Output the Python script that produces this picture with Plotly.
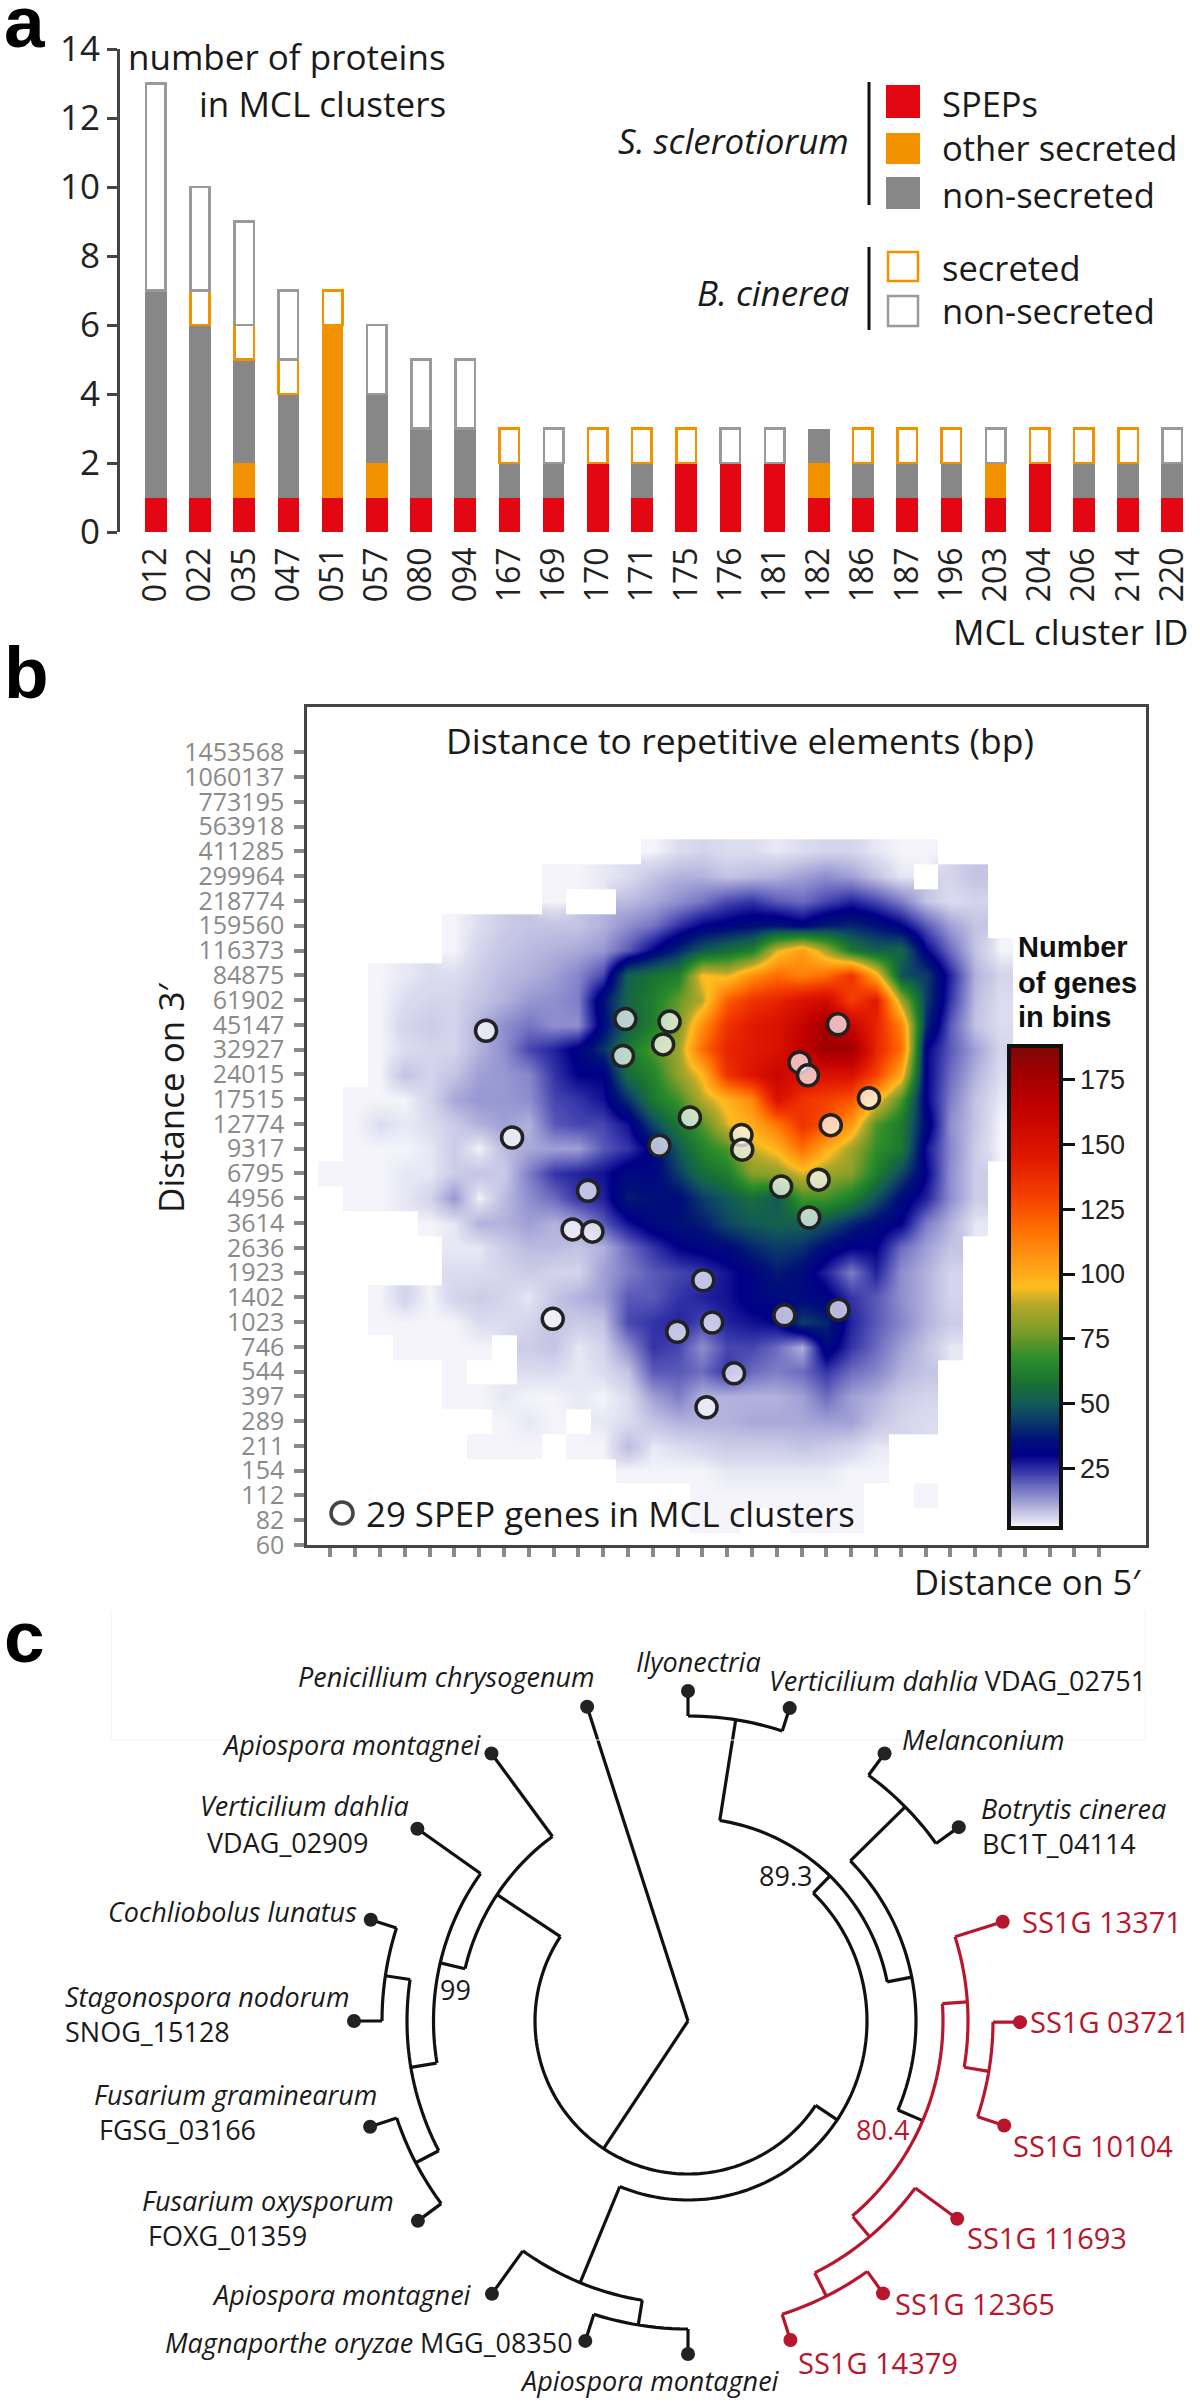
import plotly.graph_objects as go

W, H = 1200, 2403
def px(x): return x / W
def py(y): return 1 - y / H

# ---------- panel a ----------
clusters = ["012","022","035","047","051","057","080","094","167","169","170","171","175","176","181","182","186","187","196","203","204","206","214","220"]
speps          = [1,1,1,1,1,1,1,1,1,1,2,1,2,2,2,1,1,1,1,1,2,1,1,1]
other_secreted = [0,0,1,0,5,1,0,0,0,0,0,0,0,0,0,1,0,0,0,1,0,0,0,0]
non_secreted   = [6,5,3,3,0,2,2,2,1,1,0,1,0,0,0,1,1,1,1,0,0,1,1,1]
bc_secreted    = [0,1,1,1,1,0,0,0,1,0,1,1,1,0,0,0,1,1,1,0,1,1,1,0]
bc_non_secreted= [6,3,3,2,0,2,2,2,0,1,0,0,0,1,1,0,0,0,0,1,0,0,0,1]
RED, ORANGE, GREY, HOLLOW = "#e30613", "#f39200", "#878787", "#9a9a9a"

# ---------- panel b ----------
y_labels = ["60","82","112","154","211","289","397","544","746","1023","1402","1923","2636","3614","4956","6795","9317","12774","17515","24015","32927","45147","61902","84875","116373","159560","218774","299964","411285","563918","773195","1060137","1453568"]
grid_z = [  # rows from bin 0 (bottom) upwards, columns are 5' bins 0..29
 [0]*30,
 [0,0,0,0,0,0,0,0,0,0,0,0,0,0,0,0,3,3,0,0,3,3,3,0,0,0,0,0,0,0],
 [0,0,0,0,0,0,0,0,0,0,0,0,0,0,0,0,3,3,3,3,3,3,3,0,0,3,0,0,0,0],
 [0,0,0,0,0,0,0,0,0,0,0,0,0,3,3,3,3,4,4,4,4,4,3,3,0,0,0,0,0,0],
 [0,0,0,0,0,0,0,3,3,3,0,3,3,9,4,5,6,7,7,7,8,7,6,4,0,0,0,0,0,0],
 [0,0,0,0,0,0,0,0,3,4,3,0,4,5,8,10,10,10,11,11,11,12,12,8,6,5,0,0,0,0],
 [0,0,0,0,0,0,3,3,4,3,3,4,3,5,12,16,10,10,10,10,12,18,12,10,7,6,0,0,0,0],
 [0,0,0,0,0,0,3,0,0,5,5,4,5,8,20,20,18,24,18,16,18,24,18,15,10,8,0,0,0,0],
 [0,0,0,0,3,3,3,3,0,7,8,4,6,14,24,22,14,22,22,18,10,34,24,18,12,8,4,0,0,0],
 [0,0,0,3,3,3,3,5,5,6,8,7,8,22,24,26,22,26,28,30,44,40,26,20,15,10,7,0,0,0],
 [0,0,0,3,6,3,6,7,6,4,8,10,12,20,20,24,26,28,32,34,34,32,24,20,14,10,6,0,0,0],
 [0,0,0,0,0,0,5,5,6,7,6,6,12,16,20,22,24,28,32,38,34,26,16,26,14,10,6,0,0,0],
 [0,0,0,0,0,0,4,4,7,9,9,8,10,18,24,30,32,34,40,44,42,34,30,30,18,12,8,0,0,0],
 [0,0,0,0,0,3,4,10,10,12,10,12,20,28,34,36,38,46,50,52,52,48,40,34,30,16,10,4,0,0],
 [0,0,3,3,4,6,13,3,9,14,18,24,26,38,36,34,44,50,56,50,70,70,62,48,34,26,14,7,0,0],
 [0,3,3,3,4,4,7,8,7,16,24,26,28,34,32,44,56,62,80,82,92,84,80,62,46,30,14,7,0,0],
 [0,0,3,3,3,4,7,3,9,11,12,12,20,24,32,50,64,72,90,98,118,100,85,68,60,28,15,7,3,0],
 [0,0,3,5,4,5,7,10,12,10,20,22,22,28,46,60,72,92,100,115,135,125,105,72,60,34,14,8,3,0],
 [0,0,3,3,3,6,11,13,13,14,22,24,28,42,60,70,88,98,110,150,135,130,125,98,72,30,16,8,4,0],
 [0,0,0,3,8,6,8,12,13,15,24,30,30,56,64,82,96,135,148,160,150,150,150,130,100,30,18,10,5,0],
 [0,0,0,3,5,6,6,10,14,22,26,32,42,60,72,84,118,140,145,150,165,178,178,140,118,30,20,12,6,0],
 [0,0,0,3,6,7,6,10,14,17,14,14,34,52,62,78,108,135,145,150,162,178,160,140,112,40,20,8,5,0],
 [0,0,0,3,5,6,6,8,10,13,14,16,36,54,62,75,88,122,135,140,150,155,130,145,85,44,24,9,5,0],
 [0,0,0,3,4,5,5,7,9,10,12,15,22,52,58,62,96,92,108,118,112,118,135,100,48,44,26,10,6,0],
 [0,0,0,0,0,0,3,6,8,9,10,11,13,20,30,40,50,56,62,92,105,85,60,52,54,30,18,8,3,0],
 [0,0,0,0,0,0,3,5,7,8,8,8,10,14,17,24,30,32,35,36,32,38,40,36,30,20,12,8,0,0],
 [0,0,0,0,0,0,0,0,0,0,3,0,0,9,11,14,17,22,24,20,18,22,26,22,16,8,5,6,0,0],
 [0,0,0,0,0,0,0,0,0,0,3,3,4,5,8,10,10,8,9,10,12,14,12,8,4,0,6,8,0,0],
 [0,0,0,0,0,0,0,0,0,0,0,0,0,0,3,5,6,5,5,4,5,6,6,4,3,3,0,0,0,0],
 [0]*30,
]
spep_x = [7.28,8.33,12.90,14.68,14.42,12.80,15.50,14.27,17.58,17.61,19.92,20.26,21.47,22.72,21.18,20.69,19.18,20.31,11.39,10.77,11.57,16.04,9.97,14.99,16.40,19.31,21.49,17.28,16.17]
spep_y = [20.76,16.45,21.23,21.13,20.21,19.74,17.26,16.12,16.55,15.96,19.48,18.96,21.02,18.04,16.95,14.75,14.47,13.22,14.30,12.74,12.65,10.69,9.13,8.61,8.98,9.27,9.50,6.93,5.56]
cbar_ticks = [25,50,75,100,125,150,175]
Z_MIN, Z_MAX = 2, 188
stops = [(2,"#ffffff"),(3,"#f4f4fa"),(5,"#dcdcf0"),(8,"#c4c4e4"),(12,"#a0a0d6"),(18,"#6c6cc0"),(24,"#3434a8"),(30,"#000088"),(36,"#001078"),(44,"#0c3c68"),(50,"#125a58"),(58,"#1a7232"),(67,"#2a8c2a"),(78,"#7c9c28"),(88,"#b4a82a"),(95,"#ffbc20"),(108,"#ff9010"),(118,"#ff6c00"),(130,"#f54000"),(145,"#e01800"),(165,"#c00000"),(178,"#a00000"),(188,"#7c0808")]
colorscale = [[(v - Z_MIN) / (Z_MAX - Z_MIN), c] for v, c in stops]

# ---------- panel c ----------
black_radial = [(252.2,0,330),(123.5,0,153),(213.5,153,229),(233.7,229,332),(193.2,229,254.5),(215.4,254.5,332),
    (170.5,255,281),(188.5,281,306),(197.7,306,333),(180,306,334),(152.5,281,307),(161.6,307,335),(143.5,307,336),
    (33.5,153,179),(112.4,179,283),(125.7,283,336),(99.3,283,308),(107.8,308,336),(90,308,333),
    (-45.6,179,203),(-81,203,305),(-90,305,330),(-72,305,329),(-11.1,203,228),(-44.6,228,305),(-53.7,305,332),(-35.6,305,333),(23,228,255)]
black_arcs = [(153,33.5,213.5),(229,193.2,233.7),(254.5,170.5,215.4),(281,152.5,188.5),(306,180,197.7),(307,143.5,161.6),
    (179,-45.6,112.4),(283,99.3,125.7),(308,90,107.8),(203,-81,-11.1),(305,-90,-72),(228,-44.6,23),(305,-53.7,-35.6)]
red_radial = [(-3.9,255,280),(-17.5,280,330),(9.5,280,305),(0.2,305,332),(18.3,305,333),(49.9,256,282),(36.3,282,334),(63.3,282,308),(54.4,308,335),(72.2,308,335)]
red_arcs = [(255,-3.9,49.9),(280,-17.5,9.5),(305,0.2,18.3),(282,36.3,63.3),(308,54.4,72.2)]
black_tips = [(252.2,330),(233.7,332),(215.4,332),(197.7,333),(180,334),(161.6,335),(143.5,336),(125.7,336),(107.8,336),(90,333),(-90,330),(-72,329),(-53.7,332),(-35.6,333)]
red_tips = [(-17.5,330),(0.2,332),(18.3,333),(36.3,334),(54.4,335),(72.2,335)]
BLACK_T, RED_T = "#1a1a1a", "#b8162c"

tree_labels = [
 ("<i>Penicillium chrysogenum</i>",446,1676,BLACK_T,27),("<i>Apiospora montagnei</i>",352,1744,BLACK_T,27),
 ("<i>Verticilium dahlia</i>",304,1806,BLACK_T,27),("VDAG_02909",287,1842,BLACK_T,27),("<i>Cochliobolus lunatus</i>",232,1911,BLACK_T,27),
 ("<i>Stagonospora nodorum</i>",207,1996,BLACK_T,27),("SNOG_15128",147,2031,BLACK_T,27),("<i>Fusarium graminearum</i>",235,2094,BLACK_T,27),
 ("FGSG_03166",177,2129,BLACK_T,27),("<i>Fusarium oxysporum</i>",268,2200,BLACK_T,27),("FOXG_01359",227,2235,BLACK_T,27),
 ("<i>Apiospora montagnei</i>",342,2294,BLACK_T,27),("<i>Magnaporthe oryzae</i> MGG_08350",369,2342,BLACK_T,27),
 ("<i>Apiospora montagnei</i>",650,2380,BLACK_T,27),("<i>Ilyonectria</i>",698,1661,BLACK_T,27),("<i>Verticilium dahlia</i> VDAG_02751",957,1680,BLACK_T,27),
 ("<i>Melanconium</i>",983,1739,BLACK_T,27),("<i>Botrytis cinerea</i>",1073,1809,BLACK_T,27),("BC1T_04114",1059,1844,BLACK_T,27),
 ("SS1G 13371",1102,1921,RED_T,29),("SS1G 03721",1110,2021,RED_T,29),("SS1G 10104",1093,2145,RED_T,29),("SS1G 11693",1047,2237,RED_T,29),
 ("SS1G 12365",975,2303,RED_T,29),("SS1G 14379",878,2362,RED_T,29),("99",455,1990,BLACK_T,27),("89.3",785,1876,BLACK_T,27),("80.4",882,2129,RED_T,27),
]

TREE_CX, TREE_CY, TREE_R = 688, 2021, 345
SANS = "Open Sans"
ARIAL = "Liberation Sans"

def tree_lines(radial, arcs):
    r, t = [], []
    for th, r0, r1 in radial:
        r += [r0, r1, None]; t += [th, th, None]
    for rad, t0, t1 in arcs:
        n = max(2, int(abs(t1 - t0) / 1.5) + 2)
        for j in range(n):
            r.append(rad); t.append(t0 + (t1 - t0) * j / (n - 1))
        r.append(None); t.append(None)
    return r, t

fig = go.Figure()

# bars
def nz(v): return [a if a else None for a in v]
bar_w = 0.49
fig.add_bar(x=clusters, y=nz(speps), marker=dict(color=RED, line=dict(width=0)), width=bar_w, name="SPEPs")
fig.add_bar(x=clusters, y=nz(other_secreted), marker=dict(color=ORANGE, line=dict(width=0)), width=bar_w, name="other secreted")
fig.add_bar(x=clusters, y=nz(non_secreted), marker=dict(color=GREY, line=dict(width=0)), width=bar_w, name="non-secreted")
fig.add_bar(x=clusters, y=nz(bc_secreted), marker=dict(color="white", line=dict(width=2.5, color=ORANGE)), width=bar_w-0.05, name="secreted")
fig.add_bar(x=clusters, y=nz(bc_non_secreted), marker=dict(color="white", line=dict(width=2.5, color=HOLLOW)), width=bar_w-0.05, name="non-secreted ")

# heat map: empty bins are left blank
z_blank = [[v if v else None for v in row] for row in grid_z]
fig.add_heatmap(z=z_blank, x=list(range(30)), y=list(range(30)), xaxis="x2", yaxis="y2", zsmooth="best",
    zmin=Z_MIN, zmax=Z_MAX, colorscale=colorscale, hoverinfo="skip",
    colorbar=dict(x=px(1009), xanchor="left", y=py(1046), yanchor="top", len=482, lenmode="pixels",
        thickness=52, thicknessmode="pixels", outlinewidth=4, outlinecolor="#111", xpad=0, ypad=0,
        tickvals=cbar_ticks, ticks="outside", ticklen=12, tickwidth=3, tickcolor="#111",
        tickfont=dict(family=ARIAL, size=27, color="#222")))
fig.add_scatter(x=spep_x, y=spep_y, xaxis="x2", yaxis="y2", mode="markers", hoverinfo="skip",
    marker=dict(size=21, color="rgba(255,255,255,0.72)", line=dict(width=3.5, color="#222")))

# tree
br, bt = tree_lines(black_radial, black_arcs)
rr, rt = tree_lines(red_radial, red_arcs)
fig.add_scatterpolar(r=br, theta=bt, mode="lines", line=dict(color="#111", width=3.2), connectgaps=False)
fig.add_scatterpolar(r=rr, theta=rt, mode="lines", line=dict(color=RED_T, width=3.2), connectgaps=False)
fig.add_scatterpolar(r=[a[1] for a in black_tips], theta=[a[0] for a in black_tips], mode="markers", marker=dict(size=14, color="#222"))
fig.add_scatterpolar(r=[a[1] for a in red_tips], theta=[a[0] for a in red_tips], mode="markers", marker=dict(size=14, color=RED_T))

ann = []
def text(s, x, y, size=30, color="#1a1a1a", anchor="center", family=SANS, angle=0):
    ann.append(dict(text=s, x=px(x), y=py(y), xref="paper", yref="paper", xanchor=anchor, yanchor="middle",
                    showarrow=False, textangle=angle, font=dict(family=family, size=size, color=color)))

text("<b>a</b>", 2, 22, 73, "#000", "left", ARIAL)
text("<b>b</b>", 2, 673, 73, "#000", "left", ARIAL)
text("<b>c</b>", 2, 1636, 73, "#000", "left", ARIAL)

text("number of proteins", 448, 57, 35, anchor="right")
text("in MCL clusters", 448, 104, 35, anchor="right")
text("MCL cluster ID", 1190, 631, 35, anchor="right")
text("<i>S. sclerotiorum</i>", 851, 140, 35, anchor="right")
text("<i>B. cinerea</i>", 851, 292, 35, anchor="right")
for s, y in [("SPEPs",103),("other secreted",148),("non-secreted",194),("secreted",267),("non-secreted",310)]:
    text(s, 940, y, 34.5, anchor="left")

text("Distance to repetitive elements (bp)", 740, 740, 35.5)
text("Distance on 3′", 170, 1098, 35, angle=-90)
text("Distance on 5′", 1143, 1581, 34.5, anchor="right")
text("29 SPEP genes in MCL clusters", 610, 1513, 34.8)
for s, y in [("Number",947),("of genes",983),("in bins",1017)]:
    text("<b>%s</b>" % s, 1016, y, 29, "#111", "left", ARIAL)
for s, x, y, c, sz in tree_labels:
    text(s, x, y, sz, c)

shapes = []
def rect(x0, y0, x1, y1, fill, line=None, lw=0):
    shapes.append(dict(type="rect", xref="paper", yref="paper", x0=px(x0), x1=px(x1), y0=py(y0), y1=py(y1),
                       fillcolor=fill, line=dict(color=line or fill, width=lw)))
def seg(x0, y0, x1, y1, color="#111", lw=3):
    shapes.append(dict(type="line", xref="paper", yref="paper", x0=px(x0), x1=px(x1), y0=py(y0), y1=py(y1),
                       line=dict(color=color, width=lw)))
rect(886,85,920,118,RED); rect(886,133,920,164,ORANGE); rect(886,177,920,209,GREY)
rect(888,252,918,281,"white",ORANGE,2.5); rect(888,296,918,326,"white",HOLLOW,2.5)
seg(869,82,869,205); seg(869,247,869,330)
shapes.append(dict(type="circle", xref="paper", yref="paper", x0=px(331), x1=px(353), y0=py(1524), y1=py(1502),
                   fillcolor="white", line=dict(color="#444", width=3.5)))
seg(111,1610,111,1740,"#f2f2f2",1); seg(111,1740,1145,1740,"#f2f2f2",1); seg(1145,1610,1145,1740,"#f2f2f2",1)

fig.update_layout(
    width=W, height=H, autosize=False, margin=dict(l=0, r=0, t=0, b=0, pad=0, autoexpand=False),
    paper_bgcolor="white", plot_bgcolor="white", showlegend=False, barmode="stack", bargap=0.5,
    annotations=ann, shapes=shapes,
    xaxis=dict(domain=[px(120), px(1190)], anchor="y", type="category", categoryorder="array", categoryarray=clusters,
        range=[-0.81, 23.4], tickangle=-90, ticks="", showline=False, showgrid=False, zeroline=False,
        tickfont=dict(family=SANS, size=32, color="#222"), ticklabelstandoff=8),
    yaxis=dict(domain=[py(532), py(49)], anchor="x", range=[0, 14], dtick=2, showgrid=False, zeroline=False,
        showline=True, linecolor="#444", linewidth=3, ticks="outside", ticklen=10, tickwidth=3, tickcolor="#444",
        tickfont=dict(family=SANS, size=35, color="#222")),
    xaxis2=dict(domain=[px(307), px(1146)], anchor="y2", range=[(307-305.5)/24.8, (1146-305.5)/24.8],
        tickvals=list(range(33)), ticktext=[""]*33, ticks="outside", ticklen=9, tickwidth=4, tickcolor="#8a8a8a",
        showgrid=False, zeroline=False, showline=True, mirror=True, linecolor="#444", linewidth=2.5),
    yaxis2=dict(domain=[py(1545), py(707)], anchor="x2", range=[0, 33.83],
        tickvals=list(range(33)), ticktext=y_labels, ticks="outside", ticklen=10, tickwidth=4, tickcolor="#8a8a8a",
        tickfont=dict(family=SANS, size=25, color="#8a8a8a"), ticklabelstandoff=5,
        showgrid=False, zeroline=False, showline=True, mirror=True, linecolor="#444", linewidth=2.5),
    polar=dict(domain=dict(x=[px(TREE_CX-TREE_R), px(TREE_CX+TREE_R)], y=[py(TREE_CY+TREE_R), py(TREE_CY-TREE_R)]),
        bgcolor="rgba(0,0,0,0)",
        radialaxis=dict(visible=False, range=[0, TREE_R]),
        angularaxis=dict(visible=False, direction="clockwise", rotation=0)),
)
fig.write_html("out.html", config=dict(displayModeBar=False),
               post_script="document.body.style.margin='0';document.body.style.overflow='hidden';")
